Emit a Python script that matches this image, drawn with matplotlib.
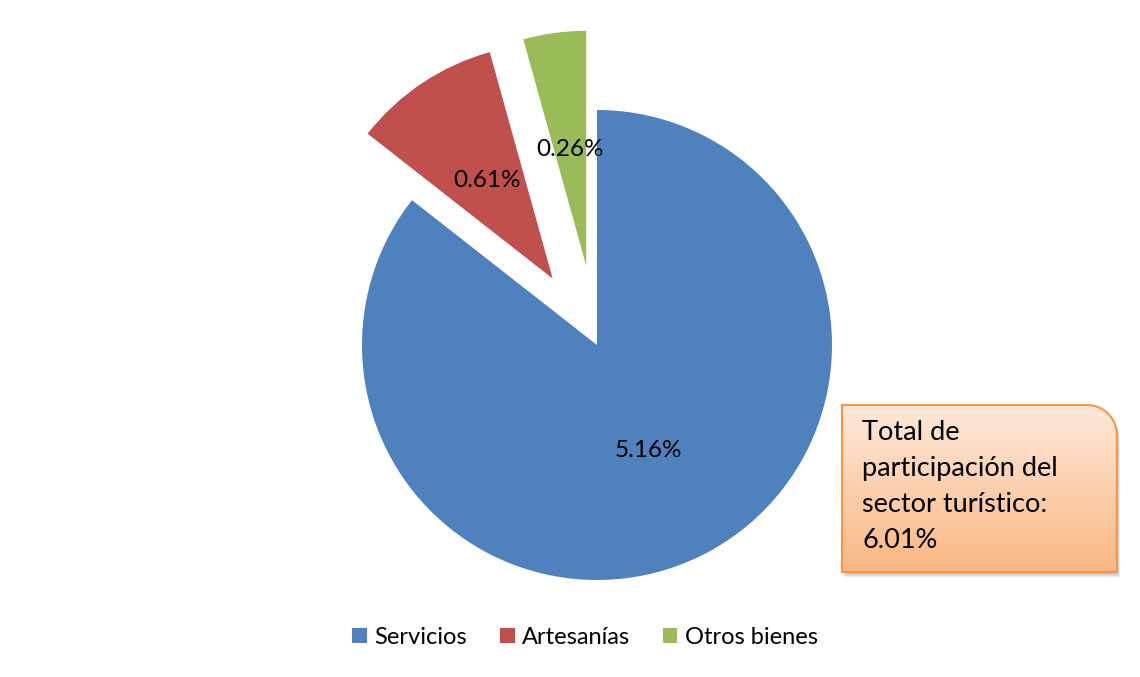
import matplotlib.pyplot as plt
import numpy as np
from matplotlib.path import Path
from matplotlib.patches import PathPatch, Patch

plt.rcParams['font.family'] = ['Lato', 'DejaVu Sans']

categorias = ['Servicios', 'Artesanías', 'Otros bienes']
valores = [5.16, 0.61, 0.26]
colores = ['#4F81BD', '#C0504D', '#9BBB59']
separacion = [0, 0.34, 0.34]
texto_total = 'Total de\nparticipación del\nsector turístico:\n6.01%'

W, H = 1140, 677
fig = plt.figure(figsize=(W / 100, H / 100), dpi=100)

# pie: centre (597, 345) px, radius 235 px
R = 235.0
cx, cy = 597, 345
half = 330
ax = fig.add_axes([(cx - half) / W, (H - cy - half) / H, 2 * half / W, 2 * half / H])

total = sum(valores)
wedges, texts, autotexts = ax.pie(
    valores, colors=colores, explode=separacion, startangle=90,
    counterclock=False, radius=1, pctdistance=0.5, frame=True,
    autopct=lambda p: f'{p * total / 100:.2f}%',
    textprops=dict(fontsize=17.5, color='black'))
ax.set_xlim(-half / R, half / R)
ax.set_ylim(-half / R, half / R)
ax.set_aspect('equal')
ax.axis('off')

# legend
handles = [Patch(facecolor=c, edgecolor='none') for c in colores]
fig.legend(handles, categorias, loc='center', bbox_to_anchor=(585 / W, 1 - 637 / H),
           ncol=3, frameon=False, fontsize=17, handlelength=0.62, handleheight=0.62,
           handletextpad=0.3, columnspacing=1.4)

# text box overlay in pixel coordinates
ov = fig.add_axes([0, 0, 1, 1])
ov.axis('off')

x0, x1, y0, y1, r = 842, 1117, 405, 572, 30


def caja(dx, dy):
    k = 0.5523 * r
    verts = [(x0 + dx, y1 + dy), (x0 + dx, y0 + dy), (x1 - r + dx, y0 + dy),
             (x1 - r + k + dx, y0 + dy), (x1 + dx, y0 + r - k + dy), (x1 + dx, y0 + r + dy),
             (x1 + dx, y1 + dy), (x0 + dx, y1 + dy)]
    codes = [Path.MOVETO, Path.LINETO, Path.LINETO, Path.CURVE4, Path.CURVE4, Path.CURVE4,
             Path.LINETO, Path.CLOSEPOLY]
    return Path(verts, codes)


# soft shadow
for i in range(4):
    ov.add_patch(PathPatch(caja(1 + i * 0.7, 2 + i * 1.2), facecolor='black',
                           edgecolor='none', alpha=0.06))

top = np.array([253, 233, 218]) / 255
bot = np.array([250, 183, 130]) / 255
t = np.linspace(0, 1, 256)[:, None]
grad = (top[None, :] * (1 - t) + bot[None, :] * t)[:, None, :]
im = ov.imshow(grad, extent=(x0, x1, y1, y0), aspect='auto', zorder=2)
borde = PathPatch(caja(0, 0), facecolor='none', edgecolor='#F79646', lw=1.5, zorder=3)
ov.add_patch(borde)
im.set_clip_path(borde)
ov.set_xlim(0, W)
ov.set_ylim(H, 0)

ov.text(862, 420, texto_total, ha='left', va='top', fontsize=19.5, linespacing=1.55,
        color='black', zorder=4)

fig.savefig('out.png', dpi=100)
